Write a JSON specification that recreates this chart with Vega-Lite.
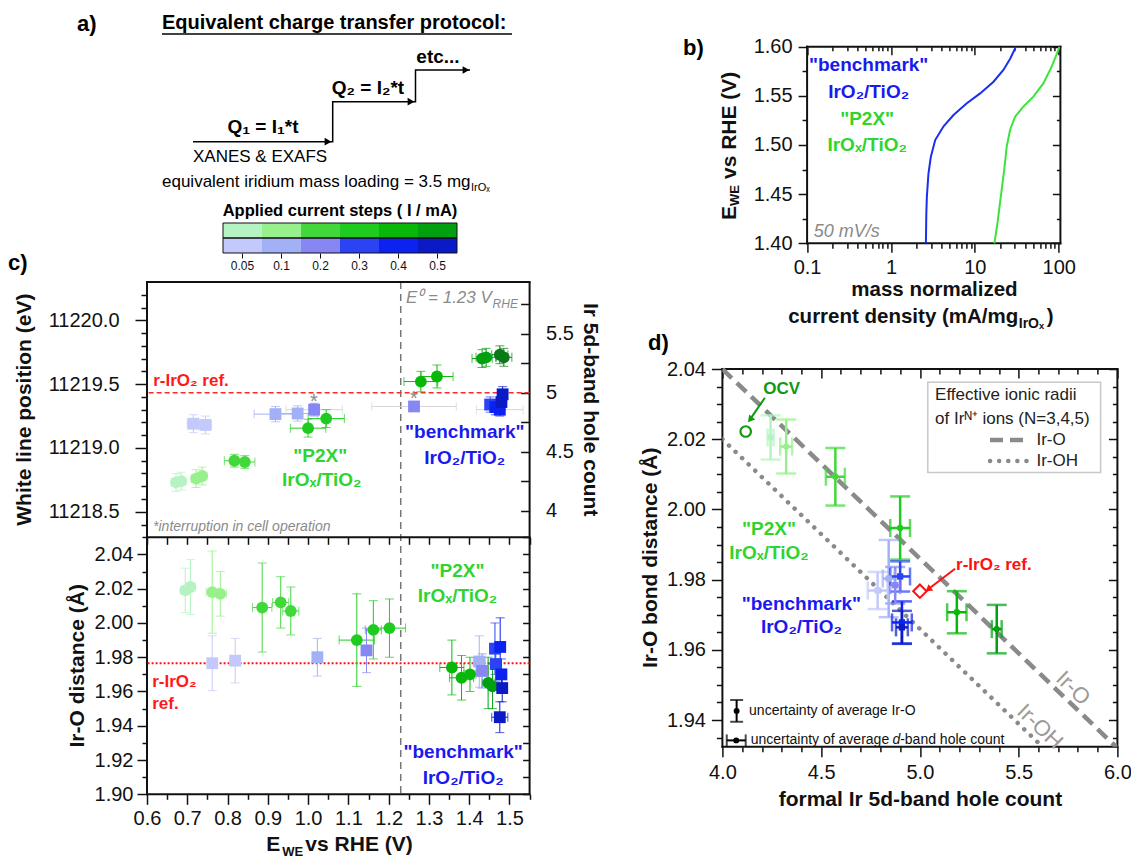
{
"$schema": "https://vega.github.io/schema/vega-lite/v6.json",
"padding": 0,
"autosize": {"type": "pad"},
"background": "white",
"config": {
  "font": "Liberation Sans",
  "view": {"stroke": null},
  "axis": {"domain": false, "grid": false, "labelFont": "Liberation Sans", "titleFont": "Liberation Sans", "labelFontSize": 20, "titleFontSize": 21, "titleFontWeight": "bold", "labelColor": "#111111", "titleColor": "#111111", "tickColor": "#111111", "tickWidth": 1.5, "labelFlush": false, "labelOverlap": false},
  "text": {"font": "Liberation Sans"}
},
"datasets": {
  "ctop": [
    {"mat":"P2X","key":"P2X|0.05","E":0.672,"wl":11218.73,"dE":0.012,"dwl":0.07,"grey":false},
    {"mat":"P2X","key":"P2X|0.05","E":0.685,"wl":11218.74,"dE":0.012,"dwl":0.07,"grey":false},
    {"mat":"P2X","key":"P2X|0.1","E":0.722,"wl":11218.76,"dE":0.012,"dwl":0.07,"grey":false},
    {"mat":"P2X","key":"P2X|0.1","E":0.737,"wl":11218.78,"dE":0.012,"dwl":0.07,"grey":false},
    {"mat":"P2X","key":"P2X|0.2","E":0.817,"wl":11218.9,"dE":0.025,"dwl":0.05,"grey":false},
    {"mat":"P2X","key":"P2X|0.2","E":0.843,"wl":11218.89,"dE":0.025,"dwl":0.05,"grey":false},
    {"mat":"P2X","key":"P2X|0.3","E":1.0,"wl":11219.155,"dE":0.044,"dwl":0.07,"grey":false},
    {"mat":"P2X","key":"P2X|0.3","E":1.045,"wl":11219.23,"dE":0.045,"dwl":0.07,"grey":false},
    {"mat":"P2X","key":"P2X|0.4","E":1.28,"wl":11219.52,"dE":0.042,"dwl":0.08,"grey":false},
    {"mat":"P2X","key":"P2X|0.4","E":1.32,"wl":11219.56,"dE":0.04,"dwl":0.09,"grey":false},
    {"mat":"P2X","key":"P2X|0.5","E":1.432,"wl":11219.7,"dE":0.025,"dwl":0.07,"grey":false},
    {"mat":"P2X","key":"P2X|0.5","E":1.442,"wl":11219.71,"dE":0.025,"dwl":0.07,"grey":false},
    {"mat":"P2X","key":"P2X|0.5b","E":1.476,"wl":11219.73,"dE":0.02,"dwl":0.07,"grey":false},
    {"mat":"P2X","key":"P2X|0.5b","E":1.486,"wl":11219.71,"dE":0.02,"dwl":0.07,"grey":false},
    {"mat":"benchmark","key":"benchmark|0.05","E":0.715,"wl":11219.19,"dE":0.015,"dwl":0.07,"grey":false},
    {"mat":"benchmark","key":"benchmark|0.05","E":0.745,"wl":11219.18,"dE":0.015,"dwl":0.07,"grey":false},
    {"mat":"benchmark","key":"benchmark|0.1","E":0.919,"wl":11219.265,"dE":0.053,"dwl":0.06,"grey":false},
    {"mat":"benchmark","key":"benchmark|0.1","E":0.974,"wl":11219.27,"dE":0.05,"dwl":0.06,"grey":false},
    {"mat":"benchmark","key":"benchmark|0.2","E":1.015,"wl":11219.3,"dE":0.07,"dwl":0.05,"grey":true},
    {"mat":"benchmark","key":"benchmark|0.2","E":1.263,"wl":11219.325,"dE":0.105,"dwl":0.03,"grey":true},
    {"mat":"benchmark","key":"benchmark|0.3","E":1.452,"wl":11219.34,"dE":0.01,"dwl":0.06,"grey":false},
    {"mat":"benchmark","key":"benchmark|0.4","E":1.465,"wl":11219.32,"dE":0.01,"dwl":0.06,"grey":false},
    {"mat":"benchmark","key":"benchmark|0.4","E":1.476,"wl":11219.3,"dE":0.058,"dwl":0.05,"grey":true},
    {"mat":"benchmark","key":"benchmark|0.5","E":1.48,"wl":11219.36,"dE":0.01,"dwl":0.06,"grey":false},
    {"mat":"benchmark","key":"benchmark|0.5","E":1.483,"wl":11219.42,"dE":0.01,"dwl":0.06,"grey":false}
  ],
  "cbot": [
    {"mat":"P2X","key":"P2X|0.05","E":0.695,"r":2.019,"dE":0.012,"dr":0.013},
    {"mat":"P2X","key":"P2X|0.05","E":0.708,"r":2.021,"dE":0.012,"dr":0.016},
    {"mat":"P2X","key":"P2X|0.1","E":0.762,"r":2.018,"dE":0.015,"dr":0.024},
    {"mat":"P2X","key":"P2X|0.1","E":0.782,"r":2.017,"dE":0.015,"dr":0.013},
    {"mat":"P2X","key":"P2X|0.2","E":0.886,"r":2.009,"dE":0.024,"dr":0.026},
    {"mat":"P2X","key":"P2X|0.2","E":0.932,"r":2.012,"dE":0.02,"dr":0.015},
    {"mat":"P2X","key":"P2X|0.2","E":0.957,"r":2.007,"dE":0.02,"dr":0.014},
    {"mat":"P2X","key":"P2X|0.3","E":1.121,"r":1.99,"dE":0.044,"dr":0.027},
    {"mat":"P2X","key":"P2X|0.3","E":1.162,"r":1.996,"dE":0.02,"dr":0.017},
    {"mat":"P2X","key":"P2X|0.3","E":1.202,"r":1.997,"dE":0.04,"dr":0.017},
    {"mat":"P2X","key":"P2X|0.4","E":1.357,"r":1.974,"dE":0.03,"dr":0.016},
    {"mat":"P2X","key":"P2X|0.4","E":1.381,"r":1.968,"dE":0.03,"dr":0.013},
    {"mat":"P2X","key":"P2X|0.4","E":1.402,"r":1.97,"dE":0.015,"dr":0.01},
    {"mat":"P2X","key":"P2X|0.5","E":1.447,"r":1.965,"dE":0.015,"dr":0.015},
    {"mat":"P2X","key":"P2X|0.5","E":1.458,"r":1.963,"dE":0.01,"dr":0.013},
    {"mat":"benchmark","key":"benchmark|0.05","E":0.762,"r":1.9765,"dE":0.008,"dr":0.016},
    {"mat":"benchmark","key":"benchmark|0.05","E":0.819,"r":1.978,"dE":0.008,"dr":0.013},
    {"mat":"benchmark","key":"benchmark|0.1","E":1.023,"r":1.98,"dE":0.008,"dr":0.011},
    {"mat":"benchmark","key":"benchmark|0.2","E":1.145,"r":1.984,"dE":0.008,"dr":0.013},
    {"mat":"benchmark","key":"benchmark|0.1","E":1.425,"r":1.9775,"dE":0.015,"dr":0.015},
    {"mat":"benchmark","key":"benchmark|0.2","E":1.432,"r":1.972,"dE":0.015,"dr":0.01},
    {"mat":"benchmark","key":"benchmark|0.3","E":1.464,"r":1.985,"dE":0.01,"dr":0.015},
    {"mat":"benchmark","key":"benchmark|0.4","E":1.477,"r":1.986,"dE":0.012,"dr":0.017},
    {"mat":"benchmark","key":"benchmark|0.3","E":1.466,"r":1.976,"dE":0.01,"dr":0.01},
    {"mat":"benchmark","key":"benchmark|0.4","E":1.48,"r":1.97,"dE":0.012,"dr":0.009},
    {"mat":"benchmark","key":"benchmark|0.5","E":1.482,"r":1.962,"dE":0.012,"dr":0.008},
    {"mat":"benchmark","key":"benchmark|0.5","E":1.476,"r":1.945,"dE":0.02,"dr":0.009}
  ],
  "dpts": [
    {"mat":"P2X","key":"P2X|0.05","h":4.244,"r":2.0205,"dh":0.015,"dr":0.0063},
    {"mat":"P2X","key":"P2X|0.1","h":4.323,"r":2.0179,"dh":0.03,"dr":0.0077},
    {"mat":"P2X","key":"P2X|0.2","h":4.572,"r":2.0093,"dh":0.048,"dr":0.0082},
    {"mat":"P2X","key":"P2X|0.3","h":4.9,"r":1.9947,"dh":0.05,"dr":0.009},
    {"mat":"P2X","key":"P2X|0.4","h":5.187,"r":1.9707,"dh":0.049,"dr":0.006},
    {"mat":"P2X","key":"P2X|0.5","h":5.389,"r":1.9659,"dh":0.025,"dr":0.0069},
    {"mat":"benchmark","key":"benchmark|0.05","h":4.786,"r":1.9769,"dh":0.05,"dr":0.0053},
    {"mat":"benchmark","key":"benchmark|0.1","h":4.842,"r":1.9803,"dh":0.03,"dr":0.011},
    {"mat":"benchmark","key":"benchmark|0.2","h":4.875,"r":1.9784,"dh":0.025,"dr":0.0052},
    {"mat":"benchmark","key":"benchmark|0.3","h":4.9,"r":1.9809,"dh":0.05,"dr":0.0043},
    {"mat":"benchmark","key":"benchmark|0.4","h":4.909,"r":1.9678,"dh":0.05,"dr":0.006},
    {"mat":"benchmark","key":"benchmark|0.5","h":4.909,"r":1.9664,"dh":0.03,"dr":0.0047}
  ],
  "lsv": [
    {"mat":"benchmark","j":2.61,"E":1.4},
    {"mat":"benchmark","j":2.64,"E":1.43},
    {"mat":"benchmark","j":2.68,"E":1.4475},
    {"mat":"benchmark","j":2.8,"E":1.471},
    {"mat":"benchmark","j":2.99,"E":1.488},
    {"mat":"benchmark","j":3.37,"E":1.505},
    {"mat":"benchmark","j":4.24,"E":1.519},
    {"mat":"benchmark","j":5.57,"E":1.5305},
    {"mat":"benchmark","j":8.03,"E":1.5424},
    {"mat":"benchmark","j":11.57,"E":1.5525},
    {"mat":"benchmark","j":16.7,"E":1.5644},
    {"mat":"benchmark","j":21.9,"E":1.5763},
    {"mat":"benchmark","j":26.5,"E":1.588},
    {"mat":"benchmark","j":30.9,"E":1.6},
    {"mat":"P2X","j":17.1,"E":1.4},
    {"mat":"P2X","j":18.6,"E":1.4203},
    {"mat":"P2X","j":20.4,"E":1.4475},
    {"mat":"P2X","j":22.4,"E":1.4746},
    {"mat":"P2X","j":24.0,"E":1.4983},
    {"mat":"P2X","j":26.3,"E":1.5153},
    {"mat":"P2X","j":30.2,"E":1.5288},
    {"mat":"P2X","j":37.9,"E":1.539},
    {"mat":"P2X","j":49.9,"E":1.5492},
    {"mat":"P2X","j":65.6,"E":1.5627},
    {"mat":"P2X","j":82.5,"E":1.5797},
    {"mat":"P2X","j":99.0,"E":1.5966},
    {"mat":"P2X","j":101.8,"E":1.6}
  ],
  "steps": [
    {"material":"P2X","I":"0.05","key":"P2X|0.05"},
    {"material":"P2X","I":"0.1","key":"P2X|0.1"},
    {"material":"P2X","I":"0.2","key":"P2X|0.2"},
    {"material":"P2X","I":"0.3","key":"P2X|0.3"},
    {"material":"P2X","I":"0.4","key":"P2X|0.4"},
    {"material":"P2X","I":"0.5","key":"P2X|0.5"},
    {"material":"benchmark","I":"0.05","key":"benchmark|0.05"},
    {"material":"benchmark","I":"0.1","key":"benchmark|0.1"},
    {"material":"benchmark","I":"0.2","key":"benchmark|0.2"},
    {"material":"benchmark","I":"0.3","key":"benchmark|0.3"},
    {"material":"benchmark","I":"0.4","key":"benchmark|0.4"},
    {"material":"benchmark","I":"0.5","key":"benchmark|0.5"}
  ]
},
"columns": 2,
"align": "none",
"bounds": "flush",
"spacing": {"row": 0, "column": 192.4},
"concat": [
{
  "width": 382.6, "height": 282,
  "resolve": {"scale": {"x": "independent", "y": "independent"}},
  "layer": [
    {"data": {"values": [{"x": 0, "x2": 1131, "y": 0, "y2": 858}]},
     "mark": {"type": "rect", "color": "white", "opacity": 1},
     "encoding": {"x": {"field": "x", "type": "quantitative", "scale": {"domain": [147, 529.6], "nice": false, "zero": false}, "axis": null}, "x2": {"field": "x2"},
                  "y": {"field": "y", "type": "quantitative", "scale": {"domain": [0, 282], "reverse": true, "nice": false, "zero": false}, "axis": null}, "y2": {"field": "y2"}}},
    {"data": {"values": [{"x": 77, "y": 24, "t": "a)"}, {"x": 683, "y": 48, "t": "b)"}, {"x": 8, "y": 263, "t": "c)"}, {"x": 648, "y": 343, "t": "d)"}]},
     "mark": {"type": "text", "align": "left", "baseline": "middle", "fontSize": 22, "fontWeight": "bold", "color": "black"},
     "encoding": {"x": {"field": "x", "type": "quantitative", "scale": {"domain": [147, 529.6], "nice": false, "zero": false}, "axis": null},
                  "y": {"field": "y", "type": "quantitative", "scale": {"domain": [0, 282], "reverse": true, "nice": false, "zero": false}, "axis": null}, "text": {"field": "t"}}},
    {"data": {"values": [{"x": 162, "y": 23, "t": "Equivalent charge transfer protocol:"}]},
     "mark": {"type": "text", "align": "left", "baseline": "middle", "fontSize": 20, "fontWeight": "bold", "color": "black"},
     "encoding": {"x": {"field": "x", "type": "quantitative", "scale": {"domain": [147, 529.6], "nice": false, "zero": false}, "axis": null},
                  "y": {"field": "y", "type": "quantitative", "scale": {"domain": [0, 282], "reverse": true, "nice": false, "zero": false}, "axis": null}, "text": {"field": "t"}}},
    {"data": {"values": [{"x": 162, "x2": 512, "y": 34}]},
     "mark": {"type": "rule", "color": "black", "strokeWidth": 1.5},
     "encoding": {"x": {"field": "x", "type": "quantitative", "scale": {"domain": [147, 529.6], "nice": false, "zero": false}, "axis": null}, "x2": {"field": "x2"},
                  "y": {"field": "y", "type": "quantitative", "scale": {"domain": [0, 282], "reverse": true, "nice": false, "zero": false}, "axis": null}}},
    {"data": {"values": [{"x": 263, "y": 127, "t": "Q₁ = I₁*t"}, {"x": 368, "y": 88, "t": "Q₂ = I₂*t"}, {"x": 438, "y": 57, "t": "etc..."}]},
     "mark": {"type": "text", "align": "center", "baseline": "middle", "fontSize": 19, "fontWeight": "bold", "color": "black"},
     "encoding": {"x": {"field": "x", "type": "quantitative", "scale": {"domain": [147, 529.6], "nice": false, "zero": false}, "axis": null},
                  "y": {"field": "y", "type": "quantitative", "scale": {"domain": [0, 282], "reverse": true, "nice": false, "zero": false}, "axis": null}, "text": {"field": "t"}}},
    {"data": {"values": [{"x": 193, "y": 157, "t": "XANES & EXAFS"}, {"x": 162, "y": 182, "t": "equivalent iridium mass loading = 3.5 mg"}]},
     "mark": {"type": "text", "align": "left", "baseline": "middle", "fontSize": 17, "color": "black"},
     "encoding": {"x": {"field": "x", "type": "quantitative", "scale": {"domain": [147, 529.6], "nice": false, "zero": false}, "axis": null},
                  "y": {"field": "y", "type": "quantitative", "scale": {"domain": [0, 282], "reverse": true, "nice": false, "zero": false}, "axis": null}, "text": {"field": "t"}}},
    {"data": {"values": [{"x": 471, "y": 188, "t": "IrOₓ"}]},
     "mark": {"type": "text", "align": "left", "baseline": "middle", "fontSize": 11, "color": "black"},
     "encoding": {"x": {"field": "x", "type": "quantitative", "scale": {"domain": [147, 529.6], "nice": false, "zero": false}, "axis": null},
                  "y": {"field": "y", "type": "quantitative", "scale": {"domain": [0, 282], "reverse": true, "nice": false, "zero": false}, "axis": null}, "text": {"field": "t"}}},
    {"data": {"values": [{"x": 340, "y": 211, "t": "Applied current steps ( I / mA)"}]},
     "mark": {"type": "text", "align": "center", "baseline": "middle", "fontSize": 16.5, "fontWeight": "bold", "color": "black"},
     "encoding": {"x": {"field": "x", "type": "quantitative", "scale": {"domain": [147, 529.6], "nice": false, "zero": false}, "axis": null},
                  "y": {"field": "y", "type": "quantitative", "scale": {"domain": [0, 282], "reverse": true, "nice": false, "zero": false}, "axis": null}, "text": {"field": "t"}}},
    {"data": {"values": [{"x": 193, "y": 141.7, "o": 1}, {"x": 332.7, "y": 141.7, "o": 2}, {"x": 332.7, "y": 101.7, "o": 3}, {"x": 415.5, "y": 101.7, "o": 4}, {"x": 415.5, "y": 70, "o": 5}, {"x": 470, "y": 70, "o": 6}]},
     "mark": {"type": "line", "color": "black", "strokeWidth": 1.5},
     "encoding": {"x": {"field": "x", "type": "quantitative", "scale": {"domain": [147, 529.6], "nice": false, "zero": false}, "axis": null},
                  "y": {"field": "y", "type": "quantitative", "scale": {"domain": [0, 282], "reverse": true, "nice": false, "zero": false}, "axis": null}, "order": {"field": "o"}}},
    {"data": {"values": [{"x": 328, "y": 141.7}, {"x": 411, "y": 101.7}, {"x": 466, "y": 70}]},
     "mark": {"type": "point", "shape": "triangle-right", "filled": true, "color": "black", "size": 60, "opacity": 1},
     "encoding": {"x": {"field": "x", "type": "quantitative", "scale": {"domain": [147, 529.6], "nice": false, "zero": false}, "axis": null},
                  "y": {"field": "y", "type": "quantitative", "scale": {"domain": [0, 282], "reverse": true, "nice": false, "zero": false}, "axis": null}}},
    {"data": {"name": "steps"},
     "mark": {"type": "rect"},
     "encoding": {
       "x": {"field": "I", "type": "ordinal", "scale": {"domain": ["0.05","0.1","0.2","0.3","0.4","0.5"], "range": [76, 310], "paddingInner": 0, "paddingOuter": 0},
             "axis": {"orient": "bottom", "offset": -29, "title": null, "tickSize": 5, "tickWidth": 1, "labelFontSize": 12, "labelPadding": 2, "labelAngle": 0}},
       "y": {"field": "material", "type": "nominal", "scale": {"domain": ["P2X", "benchmark"], "range": [223, 253], "paddingInner": 0, "paddingOuter": 0}, "axis": null},
       "color": {"field": "key", "type": "nominal", "legend": null, "scale": {"domain": ["P2X|0.05","P2X|0.1","P2X|0.2","P2X|0.3","P2X|0.4","P2X|0.5","P2X|0.5b","benchmark|0.05","benchmark|0.1","benchmark|0.2","benchmark|0.3","benchmark|0.4","benchmark|0.5"], "range": ["#b5f3c2","#98f08c","#42d83c","#20cb20","#08b808","#00a010","#0a7a16","#c3c9fa","#a2b1f5","#8787f3","#2b43f3","#0c22f0","#0a1ac4"]}}}},
    {"data": {"values": [{"x": 223, "x2": 457, "y": 223, "y2": 238}, {"x": 223, "x2": 457, "y": 238, "y2": 253}]},
     "mark": {"type": "rect", "fillOpacity": 0, "stroke": "#111111", "strokeWidth": 1},
     "encoding": {"x": {"field": "x", "type": "quantitative", "scale": {"domain": [147, 529.6], "nice": false, "zero": false}, "axis": null}, "x2": {"field": "x2"},
                  "y": {"field": "y", "type": "quantitative", "scale": {"domain": [0, 282], "reverse": true, "nice": false, "zero": false}, "axis": null}, "y2": {"field": "y2"}}}
  ]
},
{
  "width": 338, "height": 243.3,
  "resolve": {"axis": {"x": "independent", "y": "independent"}},
  "layer": [
    {"data": {"values": [{"j": 0.1, "j2": 104.8, "E": 1.4}, {"j": 0.1, "j2": 104.8, "E": 1.6}]},
     "mark": {"type": "rule", "color": "#111111", "strokeWidth": 2, "strokeCap": "square"},
     "encoding": {"x": {"field": "j", "type": "quantitative", "scale": {"type": "log", "domain": [0.009775, 104.8], "nice": false}, "axis": null}, "x2": {"field": "j2"},
                  "y": {"field": "E", "type": "quantitative", "scale": {"domain": [1.4, 1.6475], "nice": false, "zero": false}, "axis": null}}},
    {"data": {"values": [{"j": 0.1, "E": 1.4, "E2": 1.6}, {"j": 104.8, "E": 1.4, "E2": 1.6}]},
     "mark": {"type": "rule", "color": "#111111", "strokeWidth": 2, "strokeCap": "square"},
     "encoding": {"x": {"field": "j", "type": "quantitative", "scale": {"type": "log", "domain": [0.009775, 104.8], "nice": false}, "axis": null},
                  "y": {"field": "E", "type": "quantitative", "scale": {"domain": [1.4, 1.6475], "nice": false, "zero": false}, "axis": null}, "y2": {"field": "E2"}}},
    {"data": {"name": "lsv"}, "transform": [{"filter": "datum.mat == 'benchmark'"}],
     "mark": {"type": "line", "color": "#1a2ff0", "strokeWidth": 2},
     "encoding": {"x": {"field": "j", "type": "quantitative", "scale": {"type": "log", "domain": [0.009775, 104.8], "nice": false},
                        "axis": {"orient": "bottom", "values": [0.1, 1, 10, 100], "format": "~g", "tickSize": 9, "labelPadding": 5, "title": null}},
                  "y": {"field": "E", "type": "quantitative", "scale": {"domain": [1.4, 1.6475], "nice": false, "zero": false},
                        "axis": {"orient": "left", "offset": -84.7, "values": [1.4, 1.45, 1.5, 1.55, 1.6], "format": ".2f", "tickSize": 9, "labelPadding": 6, "title": null}},
                  "order": {"field": "E"}}},
    {"data": {"name": "lsv"}, "transform": [{"filter": "datum.mat == 'P2X'"}],
     "mark": {"type": "line", "color": "#3ae43a", "strokeWidth": 2},
     "encoding": {"x": {"field": "j", "type": "quantitative", "scale": {"type": "log", "domain": [0.009775, 104.8], "nice": false},
                        "axis": {"orient": "bottom", "values": [0.2, 0.3, 0.4, 0.5, 0.6, 0.7, 0.8, 0.9, 2, 3, 4, 5, 6, 7, 8, 9, 20, 30, 40, 50, 60, 70, 80, 90], "tickSize": 5, "labels": false, "title": null}},
                  "y": {"field": "E", "type": "quantitative", "scale": {"domain": [1.4, 1.6475], "nice": false, "zero": false},
                        "axis": {"orient": "left", "offset": -84.7, "values": [1.425, 1.475, 1.525, 1.575], "tickSize": 5, "labels": false, "title": null}},
                  "order": {"field": "E"}}},
    {"data": {"values": [{"j": 0.542, "E": 1.5814, "t": "\"benchmark\""}, {"j": 0.542, "E": 1.5542, "t": "IrO₂/TiO₂"}]},
     "mark": {"type": "text", "align": "center", "baseline": "middle", "fontSize": 19, "fontWeight": "bold", "color": "#1a1aee"},
     "encoding": {"x": {"field": "j", "type": "quantitative", "scale": {"type": "log", "domain": [0.009775, 104.8], "nice": false},
                        "axis": {"orient": "top", "offset": -46.7, "values": [0.1, 1, 10, 100], "tickSize": -8, "labels": false, "title": null}},
                  "y": {"field": "E", "type": "quantitative", "scale": {"domain": [1.4, 1.6475], "nice": false, "zero": false},
                        "axis": {"orient": "right", "values": [1.4, 1.45, 1.5, 1.55, 1.6], "tickSize": -8, "labels": false, "title": null}},
                  "text": {"field": "t"}}},
    {"data": {"values": [{"j": 0.52, "E": 1.5261, "t": "\"P2X\""}, {"j": 0.52, "E": 1.5, "t": "IrOₓ/TiO₂"}]},
     "mark": {"type": "text", "align": "center", "baseline": "middle", "fontSize": 19, "fontWeight": "bold", "color": "#2fd42f"},
     "encoding": {"x": {"field": "j", "type": "quantitative", "scale": {"type": "log", "domain": [0.009775, 104.8], "nice": false},
                        "axis": {"orient": "top", "offset": -46.7, "values": [0.2, 0.3, 0.4, 0.5, 0.6, 0.7, 0.8, 0.9, 2, 3, 4, 5, 6, 7, 8, 9, 20, 30, 40, 50, 60, 70, 80, 90], "tickSize": -4, "labels": false, "title": null}},
                  "y": {"field": "E", "type": "quantitative", "scale": {"domain": [1.4, 1.6475], "nice": false, "zero": false},
                        "axis": {"orient": "right", "values": [1.425, 1.475, 1.525, 1.575], "tickSize": -4, "labels": false, "title": null}},
                  "text": {"field": "t"}}},
    {"data": {"values": [{"j": 0.12, "E": 1.4119, "t": "50 mV/s"}]},
     "mark": {"type": "text", "align": "left", "baseline": "middle", "fontSize": 18, "fontStyle": "italic", "color": "#8a8a8a"},
     "encoding": {"x": {"field": "j", "type": "quantitative", "scale": {"type": "log", "domain": [0.009775, 104.8], "nice": false}, "axis": null},
                  "y": {"field": "E", "type": "quantitative", "scale": {"domain": [1.4, 1.6475], "nice": false, "zero": false}, "axis": null}, "text": {"field": "t"}}},
    {"data": {"values": [{"j": 3.3, "E": 1.3525, "t": "mass normalized"}]},
     "mark": {"type": "text", "align": "center", "baseline": "middle", "fontSize": 20.5, "fontWeight": "bold", "color": "#111111"},
     "encoding": {"x": {"field": "j", "type": "quantitative", "scale": {"type": "log", "domain": [0.009775, 104.8], "nice": false}, "axis": null},
                  "y": {"field": "E", "type": "quantitative", "scale": {"domain": [1.4, 1.6475], "nice": false, "zero": false}, "axis": null}, "text": {"field": "t"}}},
    {"data": {"values": [{"j": 33.0, "E": 1.3251, "t": "current density (mA/mg"}]},
     "mark": {"type": "text", "align": "right", "baseline": "middle", "fontSize": 20.5, "fontWeight": "bold", "color": "#111111"},
     "encoding": {"x": {"field": "j", "type": "quantitative", "scale": {"type": "log", "domain": [0.009775, 104.8], "nice": false}, "axis": null},
                  "y": {"field": "E", "type": "quantitative", "scale": {"domain": [1.4, 1.6475], "nice": false, "zero": false}, "axis": null}, "text": {"field": "t"}}},
    {"data": {"values": [{"j": 33.4, "E": 1.318, "t": "IrOₓ"}]},
     "mark": {"type": "text", "align": "left", "baseline": "middle", "fontSize": 14, "fontWeight": "bold", "color": "#111111"},
     "encoding": {"x": {"field": "j", "type": "quantitative", "scale": {"type": "log", "domain": [0.009775, 104.8], "nice": false}, "axis": null},
                  "y": {"field": "E", "type": "quantitative", "scale": {"domain": [1.4, 1.6475], "nice": false, "zero": false}, "axis": null}, "text": {"field": "t"}}},
    {"data": {"values": [{"j": 72, "E": 1.3251, "t": ")"}]},
     "mark": {"type": "text", "align": "left", "baseline": "middle", "fontSize": 20.5, "fontWeight": "bold", "color": "#111111"},
     "encoding": {"x": {"field": "j", "type": "quantitative", "scale": {"type": "log", "domain": [0.009775, 104.8], "nice": false}, "axis": null},
                  "y": {"field": "E", "type": "quantitative", "scale": {"domain": [1.4, 1.6475], "nice": false, "zero": false}, "axis": null}, "text": {"field": "t"}}},
    {"data": {"values": [{"j": 0.01218, "E": 1.4237, "t": "E"}, {"j": 0.01218, "E": 1.4654, "t": "vs RHE (V)"}]},
     "mark": {"type": "text", "align": "left", "baseline": "middle", "angle": 270, "fontSize": 21, "fontWeight": "bold", "color": "#111111"},
     "encoding": {"x": {"field": "j", "type": "quantitative", "scale": {"type": "log", "domain": [0.009775, 104.8], "nice": false}, "axis": null},
                  "y": {"field": "E", "type": "quantitative", "scale": {"domain": [1.4, 1.6475], "nice": false, "zero": false}, "axis": null}, "text": {"field": "t"}}},
    {"data": {"values": [{"j": 0.01396, "E": 1.438, "t": "WE"}]},
     "mark": {"type": "text", "align": "left", "baseline": "middle", "angle": 270, "fontSize": 13, "fontWeight": "bold", "color": "#111111"},
     "encoding": {"x": {"field": "j", "type": "quantitative", "scale": {"type": "log", "domain": [0.009775, 104.8], "nice": false}, "axis": null},
                  "y": {"field": "E", "type": "quantitative", "scale": {"domain": [1.4, 1.6475], "nice": false, "zero": false}, "axis": null}, "text": {"field": "t"}}}
  ]
},
{
  "width": 382.6, "height": 512.3,
  "resolve": {"scale": {"y": "independent"}, "axis": {"x": "independent", "y": "independent"}},
  "layer": [
    {"data": {"values": [{"E": 0.6}, {"E": 1.55}]},
     "mark": {"type": "rule", "color": "#111111", "strokeWidth": 2},
     "encoding": {"x": {"field": "E", "type": "quantitative", "scale": {"domain": [0.6, 1.55], "nice": false, "zero": false}, "axis": null}}},
    {"data": {"values": [{"E": 1.23}]},
     "mark": {"type": "rule", "color": "#777777", "strokeDash": [7, 5], "strokeWidth": 1.5},
     "encoding": {"x": {"field": "E", "type": "quantitative", "scale": {"domain": [0.6, 1.55], "nice": false, "zero": false}, "axis": null}}},
    {"data": {"values": [{"r": 1.9}, {"r": 2.05}, {"r": 2.199}]},
     "mark": {"type": "rule", "color": "#111111", "strokeWidth": 2, "strokeCap": "square"},
     "encoding": {"y": {"field": "r", "type": "quantitative", "scale": {"domain": [1.9, 2.199], "nice": false, "zero": false}, "axis": null}}},
    {"data": {"values": [{"hole": 5}]},
     "mark": {"type": "rule", "color": "#ff2a2a", "strokeDash": [5, 3], "strokeWidth": 1.5},
     "encoding": {"y": {"field": "hole", "type": "quantitative", "scale": {"domain": [1.5976, 5.938], "nice": false, "zero": false}, "axis": null}}},
    {"data": {"values": [{"E": 0.6155, "hole": 5.1, "t": "r-IrO₂ ref."}]},
     "mark": {"type": "text", "align": "left", "baseline": "middle", "fontSize": 17, "fontWeight": "bold", "color": "#ff1a1a"},
     "encoding": {"x": {"field": "E", "type": "quantitative", "scale": {"domain": [0.6, 1.55], "nice": false, "zero": false}, "axis": null},
                  "y": {"field": "hole", "type": "quantitative", "scale": {"domain": [1.5976, 5.938], "nice": false, "zero": false},
                        "axis": {"orient": "right", "values": [4, 4.5, 5, 5.5], "format": ".1~f", "ticks": false, "labelPadding": 16, "title": null}},
                  "text": {"field": "t"}}},
    {"data": {"values": [{"E": 1.701, "hole": 4.8565, "t": "Ir 5d-band hole count"}]},
     "mark": {"type": "text", "align": "center", "baseline": "middle", "angle": 90, "fontSize": 21, "fontWeight": "bold", "color": "#111111"},
     "encoding": {"x": {"field": "E", "type": "quantitative", "scale": {"domain": [0.6, 1.55], "nice": false, "zero": false}, "axis": null},
                  "y": {"field": "hole", "type": "quantitative", "scale": {"domain": [1.5976, 5.938], "nice": false, "zero": false},
                        "axis": {"orient": "right", "values": [4, 4.25, 4.5, 4.75, 5, 5.25, 5.5, 5.75], "tickSize": -9, "labels": false, "title": null}},
                  "text": {"field": "t"}}},
    {"data": {"values": [{"r": 1.9765}]},
     "mark": {"type": "rule", "color": "#ff1010", "strokeDash": [2, 2], "strokeWidth": 2.2},
     "encoding": {"y": {"field": "r", "type": "quantitative", "scale": {"domain": [1.9, 2.199], "nice": false, "zero": false}, "axis": null}}},
    {"data": {"name": "ctop"}, "transform": [{"filter": "!datum.grey"}],
     "mark": {"type": "errorbar", "ticks": true, "size": 9, "thickness": 1},
     "encoding": {"x": {"field": "E", "type": "quantitative", "scale": {"domain": [0.6, 1.55], "nice": false, "zero": false}, "axis": null}, "xError": {"field": "dE"},
                  "y": {"field": "wl", "type": "quantitative", "scale": {"domain": [11216.2867, 11220.3], "nice": false, "zero": false}, "axis": null},
                  "color": {"field": "key", "type": "nominal", "legend": null, "scale": {"domain": ["P2X|0.05","P2X|0.1","P2X|0.2","P2X|0.3","P2X|0.4","P2X|0.5","P2X|0.5b","benchmark|0.05","benchmark|0.1","benchmark|0.2","benchmark|0.3","benchmark|0.4","benchmark|0.5"], "range": ["#b5f3c2","#98f08c","#42d83c","#20cb20","#08b808","#00a010","#0a7a16","#c3c9fa","#a2b1f5","#8787f3","#2b43f3","#0c22f0","#0a1ac4"]}}}},
    {"data": {"name": "ctop"}, "transform": [{"filter": "datum.grey"}],
     "mark": {"type": "errorbar", "ticks": true, "size": 9, "thickness": 1, "color": "#d6d6d6"},
     "encoding": {"x": {"field": "E", "type": "quantitative", "scale": {"domain": [0.6, 1.55], "nice": false, "zero": false}, "axis": null}, "xError": {"field": "dE"},
                  "y": {"field": "wl", "type": "quantitative", "scale": {"domain": [11216.2867, 11220.3], "nice": false, "zero": false}, "axis": null}}},
    {"data": {"name": "ctop"},
     "mark": {"type": "errorbar", "ticks": true, "size": 9, "thickness": 1},
     "encoding": {"x": {"field": "E", "type": "quantitative", "scale": {"domain": [0.6, 1.55], "nice": false, "zero": false}, "axis": null},
                  "y": {"field": "wl", "type": "quantitative", "scale": {"domain": [11216.2867, 11220.3], "nice": false, "zero": false}, "axis": null}, "yError": {"field": "dwl"},
                  "color": {"field": "key", "type": "nominal", "legend": null, "scale": {"domain": ["P2X|0.05","P2X|0.1","P2X|0.2","P2X|0.3","P2X|0.4","P2X|0.5","P2X|0.5b","benchmark|0.05","benchmark|0.1","benchmark|0.2","benchmark|0.3","benchmark|0.4","benchmark|0.5"], "range": ["#b5f3c2","#98f08c","#42d83c","#20cb20","#08b808","#00a010","#0a7a16","#c3c9fa","#a2b1f5","#8787f3","#2b43f3","#0c22f0","#0a1ac4"]}}}},
    {"data": {"name": "cbot"},
     "mark": {"type": "errorbar", "ticks": true, "size": 9, "thickness": 1},
     "encoding": {"x": {"field": "E", "type": "quantitative", "scale": {"domain": [0.6, 1.55], "nice": false, "zero": false}, "axis": null}, "xError": {"field": "dE"},
                  "y": {"field": "r", "type": "quantitative", "scale": {"domain": [1.9, 2.199], "nice": false, "zero": false}, "axis": null},
                  "color": {"field": "key", "type": "nominal", "legend": null, "scale": {"domain": ["P2X|0.05","P2X|0.1","P2X|0.2","P2X|0.3","P2X|0.4","P2X|0.5","P2X|0.5b","benchmark|0.05","benchmark|0.1","benchmark|0.2","benchmark|0.3","benchmark|0.4","benchmark|0.5"], "range": ["#b5f3c2","#98f08c","#42d83c","#20cb20","#08b808","#00a010","#0a7a16","#c3c9fa","#a2b1f5","#8787f3","#2b43f3","#0c22f0","#0a1ac4"]}}}},
    {"data": {"name": "cbot"},
     "mark": {"type": "errorbar", "ticks": true, "size": 9, "thickness": 1},
     "encoding": {"x": {"field": "E", "type": "quantitative", "scale": {"domain": [0.6, 1.55], "nice": false, "zero": false}, "axis": null},
                  "y": {"field": "r", "type": "quantitative", "scale": {"domain": [1.9, 2.199], "nice": false, "zero": false}, "axis": null}, "yError": {"field": "dr"},
                  "color": {"field": "key", "type": "nominal", "legend": null, "scale": {"domain": ["P2X|0.05","P2X|0.1","P2X|0.2","P2X|0.3","P2X|0.4","P2X|0.5","P2X|0.5b","benchmark|0.05","benchmark|0.1","benchmark|0.2","benchmark|0.3","benchmark|0.4","benchmark|0.5"], "range": ["#b5f3c2","#98f08c","#42d83c","#20cb20","#08b808","#00a010","#0a7a16","#c3c9fa","#a2b1f5","#8787f3","#2b43f3","#0c22f0","#0a1ac4"]}}}},
    {"data": {"name": "ctop"}, "transform": [{"filter": "datum.mat == 'P2X'"}],
     "mark": {"type": "point", "shape": "circle", "filled": true, "size": 140, "opacity": 1, "strokeWidth": 0},
     "encoding": {"x": {"field": "E", "type": "quantitative", "scale": {"domain": [0.6, 1.55], "nice": false, "zero": false}, "axis": null},
                  "y": {"field": "wl", "type": "quantitative", "scale": {"domain": [11216.2867, 11220.3], "nice": false, "zero": false},
                        "axis": {"orient": "left", "values": [11218.5, 11219, 11219.5, 11220], "format": ".1f", "tickSize": 12, "labelPadding": 16, "title": null}},
                  "color": {"field": "key", "type": "nominal", "legend": null, "scale": {"domain": ["P2X|0.05","P2X|0.1","P2X|0.2","P2X|0.3","P2X|0.4","P2X|0.5","P2X|0.5b","benchmark|0.05","benchmark|0.1","benchmark|0.2","benchmark|0.3","benchmark|0.4","benchmark|0.5"], "range": ["#b5f3c2","#98f08c","#42d83c","#20cb20","#08b808","#00a010","#0a7a16","#c3c9fa","#a2b1f5","#8787f3","#2b43f3","#0c22f0","#0a1ac4"]}}}},
    {"data": {"name": "ctop"}, "transform": [{"filter": "datum.mat == 'benchmark'"}],
     "mark": {"type": "point", "shape": "square", "filled": true, "size": 140, "opacity": 1, "strokeWidth": 0},
     "encoding": {"x": {"field": "E", "type": "quantitative", "scale": {"domain": [0.6, 1.55], "nice": false, "zero": false}, "axis": null},
                  "y": {"field": "wl", "type": "quantitative", "scale": {"domain": [11216.2867, 11220.3], "nice": false, "zero": false},
                        "axis": {"orient": "left", "values": [11218.4, 11218.6, 11218.7, 11218.8, 11218.9, 11219.1, 11219.2, 11219.3, 11219.4, 11219.6, 11219.7, 11219.8, 11219.9, 11220.1, 11220.2], "tickSize": 6, "labels": false, "title": null}},
                  "color": {"field": "key", "type": "nominal", "legend": null, "scale": {"domain": ["P2X|0.05","P2X|0.1","P2X|0.2","P2X|0.3","P2X|0.4","P2X|0.5","P2X|0.5b","benchmark|0.05","benchmark|0.1","benchmark|0.2","benchmark|0.3","benchmark|0.4","benchmark|0.5"], "range": ["#b5f3c2","#98f08c","#42d83c","#20cb20","#08b808","#00a010","#0a7a16","#c3c9fa","#a2b1f5","#8787f3","#2b43f3","#0c22f0","#0a1ac4"]}}}},
    {"data": {"name": "cbot"}, "transform": [{"filter": "datum.mat == 'P2X'"}],
     "mark": {"type": "point", "shape": "circle", "filled": true, "size": 140, "opacity": 1, "strokeWidth": 0},
     "encoding": {"x": {"field": "E", "type": "quantitative", "scale": {"domain": [0.6, 1.55], "nice": false, "zero": false},
                        "axis": {"orient": "bottom", "values": [0.6,0.7,0.8,0.9,1.0,1.1,1.2,1.3,1.4,1.5], "format": ".1f", "tickSize": 10, "labelPadding": 4, "title": null}},
                  "y": {"field": "r", "type": "quantitative", "scale": {"domain": [1.9, 2.199], "nice": false, "zero": false},
                        "axis": {"orient": "left", "values": [1.9,1.92,1.94,1.96,1.98,2.0,2.02,2.04], "format": ".2f", "tickSize": 10, "labelPadding": 4, "title": null}},
                  "color": {"field": "key", "type": "nominal", "legend": null, "scale": {"domain": ["P2X|0.05","P2X|0.1","P2X|0.2","P2X|0.3","P2X|0.4","P2X|0.5","P2X|0.5b","benchmark|0.05","benchmark|0.1","benchmark|0.2","benchmark|0.3","benchmark|0.4","benchmark|0.5"], "range": ["#b5f3c2","#98f08c","#42d83c","#20cb20","#08b808","#00a010","#0a7a16","#c3c9fa","#a2b1f5","#8787f3","#2b43f3","#0c22f0","#0a1ac4"]}}}},
    {"data": {"name": "cbot"}, "transform": [{"filter": "datum.mat == 'benchmark'"}],
     "mark": {"type": "point", "shape": "square", "filled": true, "size": 140, "opacity": 1, "strokeWidth": 0},
     "encoding": {"x": {"field": "E", "type": "quantitative", "scale": {"domain": [0.6, 1.55], "nice": false, "zero": false},
                        "axis": {"orient": "bottom", "values": [0.65,0.75,0.85,0.95,1.05,1.15,1.25,1.35,1.45,1.55], "tickSize": 5, "labels": false, "title": null}},
                  "y": {"field": "r", "type": "quantitative", "scale": {"domain": [1.9, 2.199], "nice": false, "zero": false},
                        "axis": {"orient": "left", "values": [1.91,1.93,1.95,1.97,1.99,2.01,2.03,2.05], "tickSize": 5, "labels": false, "title": null}},
                  "color": {"field": "key", "type": "nominal", "legend": null, "scale": {"domain": ["P2X|0.05","P2X|0.1","P2X|0.2","P2X|0.3","P2X|0.4","P2X|0.5","P2X|0.5b","benchmark|0.05","benchmark|0.1","benchmark|0.2","benchmark|0.3","benchmark|0.4","benchmark|0.5"], "range": ["#b5f3c2","#98f08c","#42d83c","#20cb20","#08b808","#00a010","#0a7a16","#c3c9fa","#a2b1f5","#8787f3","#2b43f3","#0c22f0","#0a1ac4"]}}}},
    {"data": {"values": [{"E": 0.2977, "wl": 11219.3, "t": "White line position (eV)"}]},
     "mark": {"type": "text", "align": "center", "baseline": "middle", "angle": 270, "fontSize": 21, "fontWeight": "bold", "color": "#111111"},
     "encoding": {"x": {"field": "E", "type": "quantitative", "scale": {"domain": [0.6, 1.55], "nice": false, "zero": false}, "axis": null},
                  "y": {"field": "wl", "type": "quantitative", "scale": {"domain": [11216.2867, 11220.3], "nice": false, "zero": false}, "axis": null}, "text": {"field": "t"}}},
    {"data": {"values": [{"E": 0.615, "wl": 11218.382, "t": "*interruption in cell operation"}]},
     "mark": {"type": "text", "align": "left", "baseline": "middle", "fontSize": 14, "fontStyle": "italic", "color": "#8a8a8a"},
     "encoding": {"x": {"field": "E", "type": "quantitative", "scale": {"domain": [0.6, 1.55], "nice": false, "zero": false}, "axis": null},
                  "y": {"field": "wl", "type": "quantitative", "scale": {"domain": [11216.2867, 11220.3], "nice": false, "zero": false}, "axis": null}, "text": {"field": "t"}}},
    {"data": {"values": [{"E": 1.0146, "wl": 11219.36, "t": "*"}, {"E": 1.263, "wl": 11219.385, "t": "*"}]},
     "mark": {"type": "text", "align": "center", "baseline": "middle", "fontSize": 20, "color": "#8a8a8a"},
     "encoding": {"x": {"field": "E", "type": "quantitative", "scale": {"domain": [0.6, 1.55], "nice": false, "zero": false}, "axis": null},
                  "y": {"field": "wl", "type": "quantitative", "scale": {"domain": [11216.2867, 11220.3], "nice": false, "zero": false}, "axis": null}, "text": {"field": "t"}}},
    {"data": {"values": [{"E": 1.243, "wl": 11220.175, "t": "E⁰ = 1.23 V"}]},
     "mark": {"type": "text", "align": "left", "baseline": "middle", "fontSize": 17, "fontStyle": "italic", "color": "#8a8a8a"},
     "encoding": {"x": {"field": "E", "type": "quantitative", "scale": {"domain": [0.6, 1.55], "nice": false, "zero": false}, "axis": null},
                  "y": {"field": "wl", "type": "quantitative", "scale": {"domain": [11216.2867, 11220.3], "nice": false, "zero": false}, "axis": null}, "text": {"field": "t"}}},
    {"data": {"values": [{"E": 1.458, "wl": 11220.125, "t": "RHE"}]},
     "mark": {"type": "text", "align": "left", "baseline": "middle", "fontSize": 12, "fontStyle": "italic", "color": "#8a8a8a"},
     "encoding": {"x": {"field": "E", "type": "quantitative", "scale": {"domain": [0.6, 1.55], "nice": false, "zero": false}, "axis": null},
                  "y": {"field": "wl", "type": "quantitative", "scale": {"domain": [11216.2867, 11220.3], "nice": false, "zero": false}, "axis": null}, "text": {"field": "t"}}},
    {"data": {"values": [{"E": 1.03, "wl": 11218.937, "t": "\"P2X\""}, {"E": 1.034, "wl": 11218.749, "t": "IrOₓ/TiO₂"}]},
     "mark": {"type": "text", "align": "center", "baseline": "middle", "fontSize": 19, "fontWeight": "bold", "color": "#2fd42f"},
     "encoding": {"x": {"field": "E", "type": "quantitative", "scale": {"domain": [0.6, 1.55], "nice": false, "zero": false}, "axis": null},
                  "y": {"field": "wl", "type": "quantitative", "scale": {"domain": [11216.2867, 11220.3], "nice": false, "zero": false}, "axis": null}, "text": {"field": "t"}}},
    {"data": {"values": [{"E": 1.389, "wl": 11219.128, "t": "\"benchmark\""}, {"E": 1.389, "wl": 11218.92, "t": "IrO₂/TiO₂"}]},
     "mark": {"type": "text", "align": "center", "baseline": "middle", "fontSize": 19, "fontWeight": "bold", "color": "#1a1aee"},
     "encoding": {"x": {"field": "E", "type": "quantitative", "scale": {"domain": [0.6, 1.55], "nice": false, "zero": false}, "axis": null},
                  "y": {"field": "wl", "type": "quantitative", "scale": {"domain": [11216.2867, 11220.3], "nice": false, "zero": false}, "axis": null}, "text": {"field": "t"}}},
    {"data": {"values": [{"E": 1.371, "r": 2.0304, "t": "\"P2X\""}, {"E": 1.371, "r": 2.0158, "t": "IrOₓ/TiO₂"}]},
     "mark": {"type": "text", "align": "center", "baseline": "middle", "fontSize": 19, "fontWeight": "bold", "color": "#2fd42f"},
     "encoding": {"x": {"field": "E", "type": "quantitative", "scale": {"domain": [0.6, 1.55], "nice": false, "zero": false},
                        "axis": {"orient": "top", "offset": -255.3, "values": [0.6,0.65,0.7,0.75,0.8,0.85,0.9,0.95,1.0,1.05,1.1,1.15,1.2,1.25,1.3,1.35,1.4,1.45,1.5,1.55], "tickSize": -7, "labels": false, "title": null}},
                  "y": {"field": "r", "type": "quantitative", "scale": {"domain": [1.9, 2.199], "nice": false, "zero": false}, "axis": null}, "text": {"field": "t"}}},
    {"data": {"values": [{"E": 1.385, "r": 1.9244, "t": "\"benchmark\""}, {"E": 1.385, "r": 1.9093, "t": "IrO₂/TiO₂"}]},
     "mark": {"type": "text", "align": "center", "baseline": "middle", "fontSize": 19, "fontWeight": "bold", "color": "#1a1aee"},
     "encoding": {"x": {"field": "E", "type": "quantitative", "scale": {"domain": [0.6, 1.55], "nice": false, "zero": false}, "axis": null},
                  "y": {"field": "r", "type": "quantitative", "scale": {"domain": [1.9, 2.199], "nice": false, "zero": false}, "axis": null}, "text": {"field": "t"}}},
    {"data": {"values": [{"E": 0.613, "r": 1.9654, "t": "r-IrO₂"}, {"E": 0.613, "r": 1.9529, "t": "ref."}]},
     "mark": {"type": "text", "align": "left", "baseline": "middle", "fontSize": 17, "fontWeight": "bold", "color": "#ff1a1a"},
     "encoding": {"x": {"field": "E", "type": "quantitative", "scale": {"domain": [0.6, 1.55], "nice": false, "zero": false}, "axis": null},
                  "y": {"field": "r", "type": "quantitative", "scale": {"domain": [1.9, 2.199], "nice": false, "zero": false},
                        "axis": {"orient": "right", "values": [1.9,1.91,1.92,1.93,1.94,1.95,1.96,1.97,1.98,1.99,2.0,2.01,2.02,2.03,2.04,2.05], "tickSize": -7, "labels": false, "title": null}},
                  "text": {"field": "t"}}},
    {"data": {"values": [{"E": 0.4294, "r": 1.975, "t": "Ir-O distance (Å)"}]},
     "mark": {"type": "text", "align": "center", "baseline": "middle", "angle": 270, "fontSize": 21, "fontWeight": "bold", "color": "#111111"},
     "encoding": {"x": {"field": "E", "type": "quantitative", "scale": {"domain": [0.6, 1.55], "nice": false, "zero": false}, "axis": null},
                  "y": {"field": "r", "type": "quantitative", "scale": {"domain": [1.9, 2.199], "nice": false, "zero": false}, "axis": null}, "text": {"field": "t"}}},
    {"data": {"values": [{"E": 0.8963, "r": 1.8704, "t": "E"}, {"E": 0.9932, "r": 1.8704, "t": "vs RHE (V)"}]},
     "mark": {"type": "text", "align": "left", "baseline": "middle", "fontSize": 21, "fontWeight": "bold", "color": "#111111"},
     "encoding": {"x": {"field": "E", "type": "quantitative", "scale": {"domain": [0.6, 1.55], "nice": false, "zero": false}, "axis": null},
                  "y": {"field": "r", "type": "quantitative", "scale": {"domain": [1.9, 2.199], "nice": false, "zero": false}, "axis": null}, "text": {"field": "t"}}},
    {"data": {"values": [{"E": 0.936, "r": 1.8665, "t": "WE"}]},
     "mark": {"type": "text", "align": "left", "baseline": "middle", "fontSize": 13, "fontWeight": "bold", "color": "#111111"},
     "encoding": {"x": {"field": "E", "type": "quantitative", "scale": {"domain": [0.6, 1.55], "nice": false, "zero": false}, "axis": null},
                  "y": {"field": "r", "type": "quantitative", "scale": {"domain": [1.9, 2.199], "nice": false, "zero": false}, "axis": null}, "text": {"field": "t"}}}
  ]
},
{
  "width": 395, "height": 464.7,
  "resolve": {"axis": {"x": "independent", "y": "independent"}},
  "layer": [
    {"data": {"values": [{"h": 4, "h2": 6, "r": 1.9324}, {"h": 4, "h2": 6, "r": 2.04}]},
     "mark": {"type": "rule", "color": "#111111", "strokeWidth": 2, "strokeCap": "square"},
     "encoding": {"x": {"field": "h", "type": "quantitative", "scale": {"domain": [4, 6], "nice": false, "zero": false}, "axis": null}, "x2": {"field": "h2"},
                  "y": {"field": "r", "type": "quantitative", "scale": {"domain": [1.9324, 2.064786], "nice": false, "zero": false}, "axis": null}}},
    {"data": {"values": [{"h": 4, "r": 1.9324, "r2": 2.04}, {"h": 6, "r": 1.9324, "r2": 2.04}]},
     "mark": {"type": "rule", "color": "#111111", "strokeWidth": 2, "strokeCap": "square"},
     "encoding": {"x": {"field": "h", "type": "quantitative", "scale": {"domain": [4, 6], "nice": false, "zero": false}, "axis": null},
                  "y": {"field": "r", "type": "quantitative", "scale": {"domain": [1.9324, 2.064786], "nice": false, "zero": false}, "axis": null}, "y2": {"field": "r2"}}},
    {"data": {"values": [{"h": 5.04, "h2": 5.915, "r": 2.0105, "r2": 2.0362}]},
     "mark": {"type": "rect", "color": "white", "stroke": "#c8c8c8", "strokeWidth": 1.5, "opacity": 1},
     "encoding": {"x": {"field": "h", "type": "quantitative", "scale": {"domain": [4, 6], "nice": false, "zero": false}, "axis": null}, "x2": {"field": "h2"},
                  "y": {"field": "r", "type": "quantitative", "scale": {"domain": [1.9324, 2.064786], "nice": false, "zero": false}, "axis": null}, "y2": {"field": "r2"}}},
    {"data": {"values": [{"seg": "main", "h": 4, "r": 2.04}, {"seg": "main", "h": 6, "r": 1.932}, {"seg": "legend", "h": 5.355, "r": 2.0198}, {"seg": "legend", "h": 5.54, "r": 2.0198}]},
     "mark": {"type": "line", "color": "#8a8a8a", "strokeWidth": 4.5, "strokeDash": [13, 7], "clip": true},
     "encoding": {"x": {"field": "h", "type": "quantitative", "scale": {"domain": [4, 6], "nice": false, "zero": false},
                        "axis": {"orient": "top", "offset": -87, "values": [4, 4.5, 5, 5.5, 6], "tickSize": -9, "labels": false, "title": null}},
                  "y": {"field": "r", "type": "quantitative", "scale": {"domain": [1.9324, 2.064786], "nice": false, "zero": false},
                        "axis": {"orient": "right", "values": [1.94, 1.96, 1.98, 2.0, 2.02, 2.04], "tickSize": -9, "labels": false, "title": null}},
                  "detail": {"field": "seg"}}},
    {"data": {"values": [{"seg": "main", "h": 4, "r": 2.02}, {"seg": "main", "h": 5.62, "r": 1.9324}, {"seg": "legend", "h": 5.355, "r": 2.0138}, {"seg": "legend", "h": 5.54, "r": 2.0138}]},
     "mark": {"type": "line", "color": "#8a8a8a", "strokeWidth": 4.5, "strokeDash": [0.1, 9], "strokeCap": "round", "clip": true},
     "encoding": {"x": {"field": "h", "type": "quantitative", "scale": {"domain": [4, 6], "nice": false, "zero": false},
                        "axis": {"orient": "top", "offset": -87, "values": [4.1,4.2,4.3,4.4,4.6,4.7,4.8,4.9,5.1,5.2,5.3,5.4,5.6,5.7,5.8,5.9], "tickSize": -5, "labels": false, "title": null}},
                  "y": {"field": "r", "type": "quantitative", "scale": {"domain": [1.9324, 2.064786], "nice": false, "zero": false},
                        "axis": {"orient": "right", "values": [1.935,1.945,1.95,1.955,1.965,1.97,1.975,1.985,1.99,1.995,2.005,2.01,2.015,2.025,2.03,2.035], "tickSize": -5, "labels": false, "title": null}},
                  "detail": {"field": "seg"}}},
    {"data": {"name": "dpts"},
     "mark": {"type": "errorbar", "ticks": true, "size": 20, "thickness": 2.5},
     "encoding": {"x": {"field": "h", "type": "quantitative", "scale": {"domain": [4, 6], "nice": false, "zero": false}, "axis": null},
                  "y": {"field": "r", "type": "quantitative", "scale": {"domain": [1.9324, 2.064786], "nice": false, "zero": false}, "axis": null}, "yError": {"field": "dr"},
                  "color": {"field": "key", "type": "nominal", "legend": null, "scale": {"domain": ["P2X|0.05","P2X|0.1","P2X|0.2","P2X|0.3","P2X|0.4","P2X|0.5","P2X|0.5b","benchmark|0.05","benchmark|0.1","benchmark|0.2","benchmark|0.3","benchmark|0.4","benchmark|0.5"], "range": ["#b5f3c2","#98f08c","#42d83c","#20cb20","#08b808","#00a010","#0a7a16","#c3c9fa","#a2b1f5","#8787f3","#2b43f3","#0c22f0","#0a1ac4"]}}}},
    {"data": {"name": "dpts"},
     "mark": {"type": "errorbar", "ticks": true, "size": 18, "thickness": 2.5},
     "encoding": {"x": {"field": "h", "type": "quantitative", "scale": {"domain": [4, 6], "nice": false, "zero": false}, "axis": null}, "xError": {"field": "dh"},
                  "y": {"field": "r", "type": "quantitative", "scale": {"domain": [1.9324, 2.064786], "nice": false, "zero": false}, "axis": null},
                  "color": {"field": "key", "type": "nominal", "legend": null, "scale": {"domain": ["P2X|0.05","P2X|0.1","P2X|0.2","P2X|0.3","P2X|0.4","P2X|0.5","P2X|0.5b","benchmark|0.05","benchmark|0.1","benchmark|0.2","benchmark|0.3","benchmark|0.4","benchmark|0.5"], "range": ["#b5f3c2","#98f08c","#42d83c","#20cb20","#08b808","#00a010","#0a7a16","#c3c9fa","#a2b1f5","#8787f3","#2b43f3","#0c22f0","#0a1ac4"]}}}},
    {"data": {"name": "dpts"}, "transform": [{"filter": "datum.mat == 'P2X'"}],
     "mark": {"type": "point", "shape": "circle", "filled": true, "size": 40, "opacity": 1, "strokeWidth": 0},
     "encoding": {"x": {"field": "h", "type": "quantitative", "scale": {"domain": [4, 6], "nice": false, "zero": false},
                        "axis": {"orient": "bottom", "values": [4, 4.5, 5, 5.5, 6], "format": ".1f", "tickSize": 10, "labelPadding": 6, "title": "formal Ir 5d-band hole count", "titlePadding": 6}},
                  "y": {"field": "r", "type": "quantitative", "scale": {"domain": [1.9324, 2.064786], "nice": false, "zero": false},
                        "axis": {"orient": "left", "values": [1.94, 1.96, 1.98, 2.0, 2.02, 2.04], "format": ".2f", "tickSize": 11, "labelPadding": 6, "title": null}},
                  "color": {"field": "key", "type": "nominal", "legend": null, "scale": {"domain": ["P2X|0.05","P2X|0.1","P2X|0.2","P2X|0.3","P2X|0.4","P2X|0.5","P2X|0.5b","benchmark|0.05","benchmark|0.1","benchmark|0.2","benchmark|0.3","benchmark|0.4","benchmark|0.5"], "range": ["#b5f3c2","#98f08c","#42d83c","#20cb20","#08b808","#00a010","#0a7a16","#c3c9fa","#a2b1f5","#8787f3","#2b43f3","#0c22f0","#0a1ac4"]}}}},
    {"data": {"name": "dpts"}, "transform": [{"filter": "datum.mat == 'benchmark'"}],
     "mark": {"type": "point", "shape": "square", "filled": true, "size": 40, "opacity": 1, "strokeWidth": 0},
     "encoding": {"x": {"field": "h", "type": "quantitative", "scale": {"domain": [4, 6], "nice": false, "zero": false},
                        "axis": {"orient": "bottom", "values": [4.1,4.2,4.3,4.4,4.6,4.7,4.8,4.9,5.1,5.2,5.3,5.4,5.6,5.7,5.8,5.9], "tickSize": 5, "labels": false, "title": null}},
                  "y": {"field": "r", "type": "quantitative", "scale": {"domain": [1.9324, 2.064786], "nice": false, "zero": false},
                        "axis": {"orient": "left", "values": [1.935,1.945,1.95,1.955,1.965,1.97,1.975,1.985,1.99,1.995,2.005,2.01,2.015,2.025,2.03,2.035], "tickSize": 6, "labels": false, "title": null}},
                  "color": {"field": "key", "type": "nominal", "legend": null, "scale": {"domain": ["P2X|0.05","P2X|0.1","P2X|0.2","P2X|0.3","P2X|0.4","P2X|0.5","P2X|0.5b","benchmark|0.05","benchmark|0.1","benchmark|0.2","benchmark|0.3","benchmark|0.4","benchmark|0.5"], "range": ["#b5f3c2","#98f08c","#42d83c","#20cb20","#08b808","#00a010","#0a7a16","#c3c9fa","#a2b1f5","#8787f3","#2b43f3","#0c22f0","#0a1ac4"]}}}},
    {"data": {"values": [{"h": 4.118, "r": 2.0222}]},
     "mark": {"type": "point", "shape": "circle", "filled": false, "size": 110, "color": "#119911", "strokeWidth": 2.2, "opacity": 1},
     "encoding": {"x": {"field": "h", "type": "quantitative", "scale": {"domain": [4, 6], "nice": false, "zero": false}, "axis": null},
                  "y": {"field": "r", "type": "quantitative", "scale": {"domain": [1.9324, 2.064786], "nice": false, "zero": false}, "axis": null}}},
    {"data": {"values": [{"h": 5.0, "r": 1.9767}]},
     "mark": {"type": "point", "shape": "diamond", "filled": false, "size": 180, "color": "#ff1010", "strokeWidth": 2, "opacity": 1},
     "encoding": {"x": {"field": "h", "type": "quantitative", "scale": {"domain": [4, 6], "nice": false, "zero": false}, "axis": null},
                  "y": {"field": "r", "type": "quantitative", "scale": {"domain": [1.9324, 2.064786], "nice": false, "zero": false}, "axis": null}}},
    {"data": {"values": [{"h": 4.215, "r": 2.0318, "h2": 4.142, "r2": 2.0258}]},
     "mark": {"type": "rule", "color": "#119911", "strokeWidth": 2},
     "encoding": {"x": {"field": "h", "type": "quantitative", "scale": {"domain": [4, 6], "nice": false, "zero": false}, "axis": null}, "x2": {"field": "h2"},
                  "y": {"field": "r", "type": "quantitative", "scale": {"domain": [1.9324, 2.064786], "nice": false, "zero": false}, "axis": null}, "y2": {"field": "r2"}}},
    {"data": {"values": [{"h": 4.14, "r": 2.0256}]},
     "mark": {"type": "point", "shape": "triangle-up", "filled": true, "size": 60, "color": "#119911", "angle": 219, "opacity": 1},
     "encoding": {"x": {"field": "h", "type": "quantitative", "scale": {"domain": [4, 6], "nice": false, "zero": false}, "axis": null},
                  "y": {"field": "r", "type": "quantitative", "scale": {"domain": [1.9324, 2.064786], "nice": false, "zero": false}, "axis": null}}},
    {"data": {"values": [{"h": 5.178, "r": 1.9831, "h2": 5.045, "r2": 1.9774}]},
     "mark": {"type": "rule", "color": "#ff1010", "strokeWidth": 2},
     "encoding": {"x": {"field": "h", "type": "quantitative", "scale": {"domain": [4, 6], "nice": false, "zero": false}, "axis": null}, "x2": {"field": "h2"},
                  "y": {"field": "r", "type": "quantitative", "scale": {"domain": [1.9324, 2.064786], "nice": false, "zero": false}, "axis": null}, "y2": {"field": "r2"}}},
    {"data": {"values": [{"h": 5.042, "r": 1.9772}]},
     "mark": {"type": "point", "shape": "triangle-up", "filled": true, "size": 60, "color": "#ff1010", "angle": 233, "opacity": 1},
     "encoding": {"x": {"field": "h", "type": "quantitative", "scale": {"domain": [4, 6], "nice": false, "zero": false}, "axis": null},
                  "y": {"field": "r", "type": "quantitative", "scale": {"domain": [1.9324, 2.064786], "nice": false, "zero": false}, "axis": null}}},
    {"data": {"values": [{"h": 4.3, "r": 2.0342, "t": "OCV"}]},
     "mark": {"type": "text", "align": "center", "baseline": "middle", "fontSize": 17, "fontWeight": "bold", "color": "#119911"},
     "encoding": {"x": {"field": "h", "type": "quantitative", "scale": {"domain": [4, 6], "nice": false, "zero": false}, "axis": null},
                  "y": {"field": "r", "type": "quantitative", "scale": {"domain": [1.9324, 2.064786], "nice": false, "zero": false}, "axis": null}, "text": {"field": "t"}}},
    {"data": {"values": [{"h": 5.183, "r": 1.9841, "t": "r-IrO₂ ref."}]},
     "mark": {"type": "text", "align": "left", "baseline": "middle", "fontSize": 17, "fontWeight": "bold", "color": "#ff1010"},
     "encoding": {"x": {"field": "h", "type": "quantitative", "scale": {"domain": [4, 6], "nice": false, "zero": false}, "axis": null},
                  "y": {"field": "r", "type": "quantitative", "scale": {"domain": [1.9324, 2.064786], "nice": false, "zero": false}, "axis": null}, "text": {"field": "t"}}},
    {"data": {"values": [{"h": 4.236, "r": 1.9944, "t": "\"P2X\""}, {"h": 4.236, "r": 1.9875, "t": "IrOₓ/TiO₂"}]},
     "mark": {"type": "text", "align": "center", "baseline": "middle", "fontSize": 19, "fontWeight": "bold", "color": "#2fd42f"},
     "encoding": {"x": {"field": "h", "type": "quantitative", "scale": {"domain": [4, 6], "nice": false, "zero": false}, "axis": null},
                  "y": {"field": "r", "type": "quantitative", "scale": {"domain": [1.9324, 2.064786], "nice": false, "zero": false}, "axis": null}, "text": {"field": "t"}}},
    {"data": {"values": [{"h": 4.4, "r": 1.9731, "t": "\"benchmark\""}, {"h": 4.4, "r": 1.9664, "t": "IrO₂/TiO₂"}]},
     "mark": {"type": "text", "align": "center", "baseline": "middle", "fontSize": 19, "fontWeight": "bold", "color": "#1a1aee"},
     "encoding": {"x": {"field": "h", "type": "quantitative", "scale": {"domain": [4, 6], "nice": false, "zero": false}, "axis": null},
                  "y": {"field": "r", "type": "quantitative", "scale": {"domain": [1.9324, 2.064786], "nice": false, "zero": false}, "axis": null}, "text": {"field": "t"}}},
    {"data": {"values": [{"h": 5.077, "r": 2.0327, "t": "Effective ionic radii"}, {"h": 5.077, "r": 2.0258, "t": "of Irᴺ⁺ ions (N=3,4,5)"}, {"h": 5.59, "r": 2.0198, "t": "Ir-O"}, {"h": 5.59, "r": 2.0138, "t": "Ir-OH"}]},
     "mark": {"type": "text", "align": "left", "baseline": "middle", "fontSize": 17, "color": "#222222"},
     "encoding": {"x": {"field": "h", "type": "quantitative", "scale": {"domain": [4, 6], "nice": false, "zero": false}, "axis": null},
                  "y": {"field": "r", "type": "quantitative", "scale": {"domain": [1.9324, 2.064786], "nice": false, "zero": false}, "axis": null}, "text": {"field": "t"}}},
    {"data": {"values": [{"h": 5.776, "r": 1.9491, "t": "Ir-O"}, {"h": 5.608, "r": 1.9381, "t": "Ir-OH"}]},
     "mark": {"type": "text", "align": "center", "baseline": "middle", "fontSize": 22, "angle": 44, "color": "#9a9a9a"},
     "encoding": {"x": {"field": "h", "type": "quantitative", "scale": {"domain": [4, 6], "nice": false, "zero": false}, "axis": null},
                  "y": {"field": "r", "type": "quantitative", "scale": {"domain": [1.9324, 2.064786], "nice": false, "zero": false}, "axis": null}, "text": {"field": "t"}}},
    {"data": {"values": [{"h": 4.072, "r": 1.9426, "dr": 0.0031}]},
     "mark": {"type": "errorbar", "ticks": true, "size": 13, "thickness": 2, "color": "black"},
     "encoding": {"x": {"field": "h", "type": "quantitative", "scale": {"domain": [4, 6], "nice": false, "zero": false}, "axis": null},
                  "y": {"field": "r", "type": "quantitative", "scale": {"domain": [1.9324, 2.064786], "nice": false, "zero": false}, "axis": null}, "yError": {"field": "dr"}}},
    {"data": {"values": [{"h": 4.07, "r": 1.9342, "dh": 0.048}]},
     "mark": {"type": "errorbar", "ticks": true, "size": 12, "thickness": 2, "color": "black"},
     "encoding": {"x": {"field": "h", "type": "quantitative", "scale": {"domain": [4, 6], "nice": false, "zero": false}, "axis": null}, "xError": {"field": "dh"},
                  "y": {"field": "r", "type": "quantitative", "scale": {"domain": [1.9324, 2.064786], "nice": false, "zero": false}, "axis": null}}},
    {"data": {"values": [{"h": 4.072, "r": 1.9426}, {"h": 4.07, "r": 1.9342}]},
     "mark": {"type": "point", "shape": "circle", "filled": true, "size": 35, "color": "black", "opacity": 1},
     "encoding": {"x": {"field": "h", "type": "quantitative", "scale": {"domain": [4, 6], "nice": false, "zero": false}, "axis": null},
                  "y": {"field": "r", "type": "quantitative", "scale": {"domain": [1.9324, 2.064786], "nice": false, "zero": false}, "axis": null}}},
    {"data": {"values": [{"h": 4.135, "r": 1.9426, "t": "uncertainty of average Ir-O"}, {"h": 4.143, "r": 1.9342, "t": "uncertainty of average"}, {"h": 4.9, "r": 1.9342, "t": "-band hole count"}]},
     "mark": {"type": "text", "align": "left", "baseline": "middle", "fontSize": 14, "color": "#111111"},
     "encoding": {"x": {"field": "h", "type": "quantitative", "scale": {"domain": [4, 6], "nice": false, "zero": false}, "axis": null},
                  "y": {"field": "r", "type": "quantitative", "scale": {"domain": [1.9324, 2.064786], "nice": false, "zero": false}, "axis": null}, "text": {"field": "t"}}},
    {"data": {"values": [{"h": 4.861, "r": 1.9342, "t": "d"}]},
     "mark": {"type": "text", "align": "left", "baseline": "middle", "fontSize": 14, "fontStyle": "italic", "color": "#111111"},
     "encoding": {"x": {"field": "h", "type": "quantitative", "scale": {"domain": [4, 6], "nice": false, "zero": false}, "axis": null},
                  "y": {"field": "r", "type": "quantitative", "scale": {"domain": [1.9324, 2.064786], "nice": false, "zero": false}, "axis": null}, "text": {"field": "t"}}},
    {"data": {"values": [{"h": 3.638, "r": 1.9862, "t": "Ir-O bond distance (Å)"}]},
     "mark": {"type": "text", "align": "center", "baseline": "middle", "angle": 270, "fontSize": 21, "fontWeight": "bold", "color": "#111111"},
     "encoding": {"x": {"field": "h", "type": "quantitative", "scale": {"domain": [4, 6], "nice": false, "zero": false}, "axis": null},
                  "y": {"field": "r", "type": "quantitative", "scale": {"domain": [1.9324, 2.064786], "nice": false, "zero": false}, "axis": null}, "text": {"field": "t"}}}
  ]
}
]
}
